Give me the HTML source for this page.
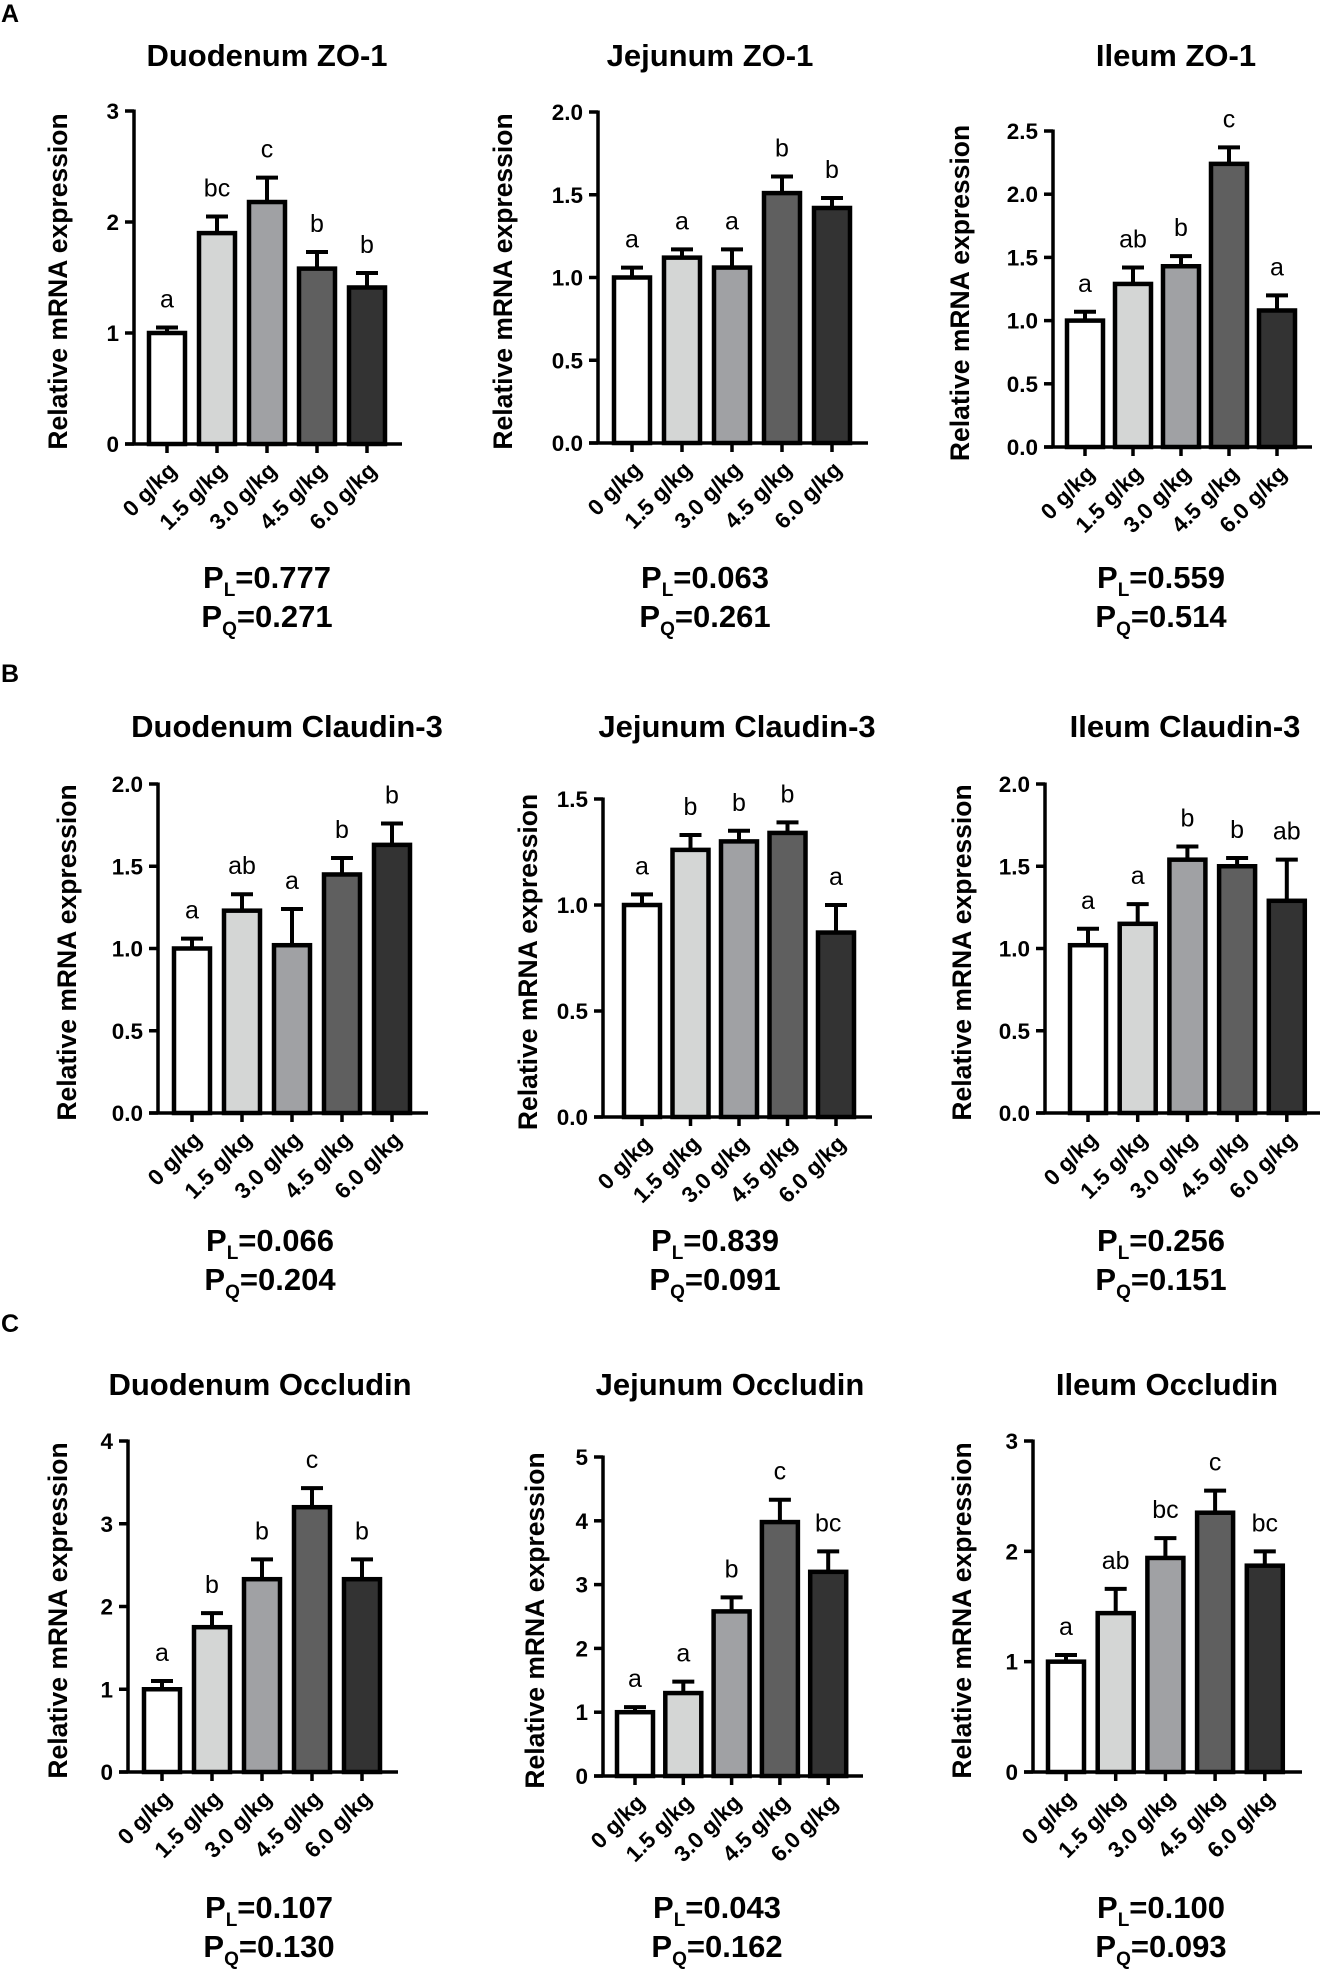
<!DOCTYPE html>
<html><head><meta charset="utf-8">
<style>
html,body{margin:0;padding:0;background:#fff;}
svg{display:block;font-family:"Liberation Sans",Arial,sans-serif;}
</style></head>
<body>
<svg id="fig" width="1324" height="1971" viewBox="0 0 1324 1971" xmlns="http://www.w3.org/2000/svg"></svg>
<script>
const categories = ["0 g/kg","1.5 g/kg","3.0 g/kg","4.5 g/kg","6.0 g/kg"];
const barFills = ["#ffffff","#d4d6d5","#a0a1a4","#5f5f5f","#333333"];

const duoZo1Means = [1.0,1.9,2.18,1.58,1.41];
const duoZo1Errs = [0.05,0.15,0.22,0.15,0.13];
const duoZo1Letters = ["a","bc","c","b","b"];
const duoZo1Ticks = [0,1,2,3];
const duoZo1TickLabels = ["0","1","2","3"];

const jejZo1Means = [1.0,1.12,1.06,1.51,1.42];
const jejZo1Errs = [0.06,0.05,0.11,0.10,0.06];
const jejZo1Letters = ["a","a","a","b","b"];
const jejZo1Ticks = [0,0.5,1,1.5,2];
const jejZo1TickLabels = ["0.0","0.5","1.0","1.5","2.0"];

const ileZo1Means = [1.0,1.29,1.43,2.24,1.08];
const ileZo1Errs = [0.07,0.13,0.08,0.13,0.12];
const ileZo1Letters = ["a","ab","b","c","a"];
const ileZo1Ticks = [0,0.5,1,1.5,2,2.5];
const ileZo1TickLabels = ["0.0","0.5","1.0","1.5","2.0","2.5"];

const duoCldMeans = [1.0,1.23,1.02,1.45,1.63];
const duoCldErrs = [0.06,0.10,0.22,0.10,0.13];
const duoCldLetters = ["a","ab","a","b","b"];
const duoCldTicks = [0,0.5,1,1.5,2];
const duoCldTickLabels = ["0.0","0.5","1.0","1.5","2.0"];

const jejCldMeans = [1.0,1.26,1.30,1.34,0.87];
const jejCldErrs = [0.05,0.07,0.05,0.05,0.13];
const jejCldLetters = ["a","b","b","b","a"];
const jejCldTicks = [0,0.5,1,1.5];
const jejCldTickLabels = ["0.0","0.5","1.0","1.5"];

const ileCldMeans = [1.02,1.15,1.54,1.50,1.29];
const ileCldErrs = [0.10,0.12,0.08,0.05,0.25];
const ileCldLetters = ["a","a","b","b","ab"];
const ileCldTicks = [0,0.5,1,1.5,2];
const ileCldTickLabels = ["0.0","0.5","1.0","1.5","2.0"];

const duoOccMeans = [1.0,1.75,2.33,3.2,2.33];
const duoOccErrs = [0.10,0.17,0.24,0.23,0.24];
const duoOccLetters = ["a","b","b","c","b"];
const duoOccTicks = [0,1,2,3,4];
const duoOccTickLabels = ["0","1","2","3","4"];

const jejOccMeans = [1.0,1.3,2.58,3.98,3.2];
const jejOccErrs = [0.08,0.18,0.22,0.35,0.32];
const jejOccLetters = ["a","a","b","c","bc"];
const jejOccTicks = [0,1,2,3,4,5];
const jejOccTickLabels = ["0","1","2","3","4","5"];

const ileOccMeans = [1.0,1.44,1.94,2.35,1.87];
const ileOccErrs = [0.06,0.22,0.18,0.20,0.13];
const ileOccLetters = ["a","ab","bc","c","bc"];
const ileOccTicks = [0,1,2,3];
const ileOccTickLabels = ["0","1","2","3"];

const pLinear = ["0.777","0.063","0.559","0.066","0.839","0.256","0.107","0.043","0.100"];
const pQuad = ["0.271","0.261","0.514","0.204","0.091","0.151","0.130","0.162","0.093"];

const panels = [
 {key:"duodenum-zo1",title:"Duodenum ZO-1",m:duoZo1Means,e:duoZo1Errs,l:duoZo1Letters,t:duoZo1Ticks,tl:duoZo1TickLabels,ax:134,x0:167,dx:50,top:111,zero:444,right:402,tx:267,ty:66,lx:58,px:267,py:588},
 {key:"jejunum-zo1",title:"Jejunum ZO-1",m:jejZo1Means,e:jejZo1Errs,l:jejZo1Letters,t:jejZo1Ticks,tl:jejZo1TickLabels,ax:598,x0:632,dx:50,top:112,zero:443,right:868,tx:710,ty:66,lx:503,px:705,py:588},
 {key:"ileum-zo1",title:"Ileum ZO-1",m:ileZo1Means,e:ileZo1Errs,l:ileZo1Letters,t:ileZo1Ticks,tl:ileZo1TickLabels,ax:1053,x0:1085,dx:48,top:131,zero:447,right:1312,tx:1176,ty:66,lx:960,px:1161,py:588},
 {key:"duodenum-claudin3",title:"Duodenum Claudin-3",m:duoCldMeans,e:duoCldErrs,l:duoCldLetters,t:duoCldTicks,tl:duoCldTickLabels,ax:158,x0:192,dx:50,top:784,zero:1113,right:428,tx:287,ty:737,lx:67,px:270,py:1251},
 {key:"jejunum-claudin3",title:"Jejunum Claudin-3",m:jejCldMeans,e:jejCldErrs,l:jejCldLetters,t:jejCldTicks,tl:jejCldTickLabels,ax:603,x0:642,dx:48.5,top:799,zero:1117,right:872,tx:737,ty:737,lx:528,px:715,py:1251},
 {key:"ileum-claudin3",title:"Ileum Claudin-3",m:ileCldMeans,e:ileCldErrs,l:ileCldLetters,t:ileCldTicks,tl:ileCldTickLabels,ax:1045,x0:1088,dx:49.7,top:784,zero:1113,right:1320,tx:1185,ty:737,lx:962,px:1161,py:1251},
 {key:"duodenum-occludin",title:"Duodenum Occludin",m:duoOccMeans,e:duoOccErrs,l:duoOccLetters,t:duoOccTicks,tl:duoOccTickLabels,ax:128,x0:162,dx:50,top:1441,zero:1772,right:398,tx:260,ty:1395,lx:58,px:269,py:1918},
 {key:"jejunum-occludin",title:"Jejunum Occludin",m:jejOccMeans,e:jejOccErrs,l:jejOccLetters,t:jejOccTicks,tl:jejOccTickLabels,ax:603,x0:635,dx:48.3,top:1457,zero:1776,right:863,tx:730,ty:1395,lx:535,px:717,py:1918},
 {key:"ileum-occludin",title:"Ileum Occludin",m:ileOccMeans,e:ileOccErrs,l:ileOccLetters,t:ileOccTicks,tl:ileOccTickLabels,ax:1033,x0:1066,dx:49.7,top:1441,zero:1772,right:1302,tx:1167,ty:1395,lx:962,px:1161,py:1918}
];

const NS="http://www.w3.org/2000/svg";
const svg=document.getElementById("fig");
function mk(tag,attrs,parent,txt){const el=document.createElementNS(NS,tag);for(const k in attrs)el.setAttribute(k,attrs[k]);if(txt!==undefined)el.textContent=txt;(parent||svg).appendChild(el);return el;}

[["A",22],["B",682],["C",1332]].forEach(([s,y])=>{
  const t=mk("text",{x:1,y:y,"font-size":"25","font-weight":"bold"},svg,s);
  
  
});

panels.forEach((p,pi)=>{
  const g=mk("g",{});
  
  
  const ymax=p.t[p.t.length-1];
  const y=v=>p.zero-(v/ymax)*(p.zero-p.top);
  const x=i=>p.x0+i*p.dx;
  const title=mk("text",{x:p.tx,y:p.ty,"text-anchor":"middle","font-size":"31","font-weight":"bold"},g,p.title);
  
  
  const yl=mk("text",{x:0,y:0,"text-anchor":"middle","font-size":"26.5","font-weight":"bold",transform:`translate(${p.lx+9},${(p.top+p.zero)/2+4}) rotate(-90)`},g,"Relative mRNA expression");
  
  
  p.m.forEach((v,i)=>{
    const cx=x(i);
    const eb=mk("path",{d:`M${cx} ${y(v)} V${y(v+p.e[i])} M${cx-11} ${y(v+p.e[i])} H${cx+11}`,stroke:"#000","stroke-width":"4",fill:"none"},g);
    
    
    const r=mk("rect",{x:cx-18,y:y(v),width:36,height:p.zero-y(v),fill:barFills[i],stroke:"#000","stroke-width":"4.5"},g);
    
    
    const lt=mk("text",{x:cx,y:y(v+p.e[i])-20,"text-anchor":"middle","font-size":"25"},g,p.l[i]);
    
    
    const tk=mk("line",{x1:cx,y1:p.zero,x2:cx,y2:p.zero+9,stroke:"#000","stroke-width":"3.5"},g);
    
    
    const xl=mk("text",{x:0,y:0,"text-anchor":"end","font-size":"22.5","font-weight":"bold",transform:`translate(${cx+11},${p.zero+28}) rotate(-45)`},g,categories[i]);
    
    
  });
  const ya=mk("line",{x1:p.ax,y1:p.top-1.5,x2:p.ax,y2:p.zero+1.5,stroke:"#000","stroke-width":"3.5"},g);
  
  
  const xa=mk("line",{x1:p.ax-9,y1:p.zero,x2:p.right,y2:p.zero,stroke:"#000","stroke-width":"3.5"},g);
  
  
  p.t.forEach((tv,j)=>{
    const tl=mk("line",{x1:p.ax-9,y1:y(tv),x2:p.ax,y2:y(tv),stroke:"#000","stroke-width":"3.5"},g);
    
    
    const tt=mk("text",{x:p.ax-15,y:y(tv)+8,"text-anchor":"end","font-size":"22.5","font-weight":"bold"},g,p.tl[j]);
    
    
  });
  const pl=mk("text",{x:p.px,y:p.py,"text-anchor":"middle","font-size":"31","font-weight":"bold"},g);
  
  
  mk("tspan",{},pl,"P");
  mk("tspan",{"font-size":"19",dy:"8"},pl,"L");
  mk("tspan",{dy:"-8"},pl,"="+pLinear[pi]);
  const pq=mk("text",{x:p.px,y:p.py+39,"text-anchor":"middle","font-size":"31","font-weight":"bold"},g);
  
  
  mk("tspan",{},pq,"P");
  mk("tspan",{"font-size":"19",dy:"8"},pq,"Q");
  mk("tspan",{dy:"-8"},pq,"="+pQuad[pi]);
});
</script>
</body></html>
